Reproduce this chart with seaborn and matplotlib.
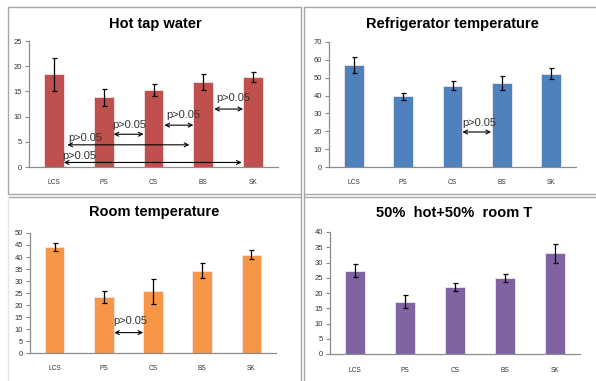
import matplotlib
matplotlib.use("Agg")
import matplotlib.pyplot as plt
from matplotlib.lines import Line2D
import seaborn as sns
import pandas as pd

sns.set_theme(style="white")
plt.rcParams["font.family"] = ["Liberation Sans", "DejaVu Sans"]

categories = ["LCS", "PS", "CS", "BS", "SK"]

hot_mean = [18.4, 13.8, 15.3, 16.8, 17.8]
hot_err = [3.3, 1.6, 1.15, 1.6, 1.0]

fridge_mean = [57.2, 39.5, 45.5, 47.0, 52.2]
fridge_err = [4.3, 2.0, 2.5, 4.0, 3.0]

room_mean = [44.0, 23.3, 25.7, 34.2, 41.0]
room_err = [1.7, 2.4, 5.2, 3.1, 1.8]

mix_mean = [27.3, 17.2, 22.0, 25.0, 33.0]
mix_err = [2.1, 2.0, 1.3, 1.3, 3.2]

W, H = 596, 381
fig = plt.figure(figsize=(W / 100, H / 100), dpi=100)


def px_axes(left, right, top, bottom):
    return fig.add_axes([left / W, 1 - bottom / H, (right - left) / W, (bottom - top) / H])


def px_line(x0, y0, x1, y1, color="#a6a6a6", lw=1.0):
    fig.add_artist(Line2D([x0 / W, x1 / W], [1 - y0 / H, 1 - y1 / H],
                          transform=fig.transFigure, color=color, lw=lw))


def panel(ax, means, errs, color, ymax, ystep, title, title_xy):
    df = pd.DataFrame({"site": categories, "value": means})
    sns.barplot(data=df, x="site", y="value", ax=ax, color=color, width=0.4,
                saturation=1, errorbar=None, edgecolor="#f4e6e6", linewidth=0.6)
    ax.errorbar(range(len(categories)), means, yerr=errs, fmt="none",
                ecolor="black", elinewidth=0.9, capsize=1.8, capthick=0.9)
    ax.set_xlim(-0.5, len(categories) - 0.5)
    ax.set_ylim(0, ymax)
    ax.set_yticks(range(0, ymax + 1, ystep))
    ax.set_xlabel("")
    ax.set_ylabel("")
    for s in ["top", "right"]:
        ax.spines[s].set_visible(False)
    for s in ["left", "bottom"]:
        ax.spines[s].set_color("#8c8c8c")
        ax.spines[s].set_linewidth(0.9)
    ax.set_xticks([i - 0.5 for i in range(len(categories) + 1)], minor=True)
    ax.tick_params(axis="x", which="major", length=0, pad=9, labelsize=4.8, labelcolor="#333333")
    ax.tick_params(axis="x", which="minor", length=3, width=0.8, color="#8c8c8c", direction="out")
    ax.tick_params(axis="y", length=3, width=0.8, color="#8c8c8c", direction="out",
                   labelsize=5.5, labelcolor="#333333", pad=2, left=True)
    ax.grid(False)
    fig.text(title_xy[0] / W, 1 - title_xy[1] / H, title, ha="center", va="center",
             fontsize=10.5, fontweight="bold", color="black")


def pbar(ax, x0, x1, y, tx, ty):
    ax.annotate("", xy=(x0, y), xytext=(x1, y),
                arrowprops=dict(arrowstyle="<->", color="black", lw=0.8,
                                shrinkA=0, shrinkB=0, mutation_scale=7))
    ax.text(tx, ty, "p>0.05", fontsize=8, ha="left", va="center", color="#333333")


# panel frames
px_line(8, 7, 301, 7)
px_line(8, 7, 8, 194)
px_line(8, 194, 301, 194)
px_line(301, 7, 301, 381)
px_line(304, 7, 596, 7)
px_line(304, 7, 304, 381)
px_line(304, 194, 596, 194)
px_line(8, 197, 301, 197)
px_line(304, 197, 596, 197)
px_line(8, 197, 8, 381, color="#e6e6e6")

ax1 = px_axes(29, 278, 41, 167)
panel(ax1, hot_mean, hot_err, "#c0504d", 25, 5, "Hot tap water", (155, 24))
pbar(ax1, 1.2, 1.8, 6.5, 1.18, 8.4)
pbar(ax1, 2.22, 2.8, 8.3, 2.26, 10.3)
pbar(ax1, 3.22, 3.8, 11.5, 3.27, 13.7)
pbar(ax1, 0.27, 2.72, 4.4, 0.29, 5.8)
pbar(ax1, 0.2, 3.77, 0.9, 0.17, 2.1)

ax2 = px_axes(329, 576, 42, 167)
panel(ax2, fridge_mean, fridge_err, "#4f81bd", 70, 10, "Refrigerator temperature", (452, 24))
pbar(ax2, 2.2, 2.78, 19.6, 2.2, 24.6)

ax3 = px_axes(30, 276, 233, 353)
panel(ax3, room_mean, room_err, "#f79646", 50, 5, "Room temperature", (154, 212))
pbar(ax3, 1.21, 1.8, 8.5, 1.2, 13.3)

ax4 = px_axes(330, 580, 232, 354)
panel(ax4, mix_mean, mix_err, "#8064a2", 40, 5, "50%  hot+50%  room T", (454, 213))

fig.savefig("out.png", dpi=100)
